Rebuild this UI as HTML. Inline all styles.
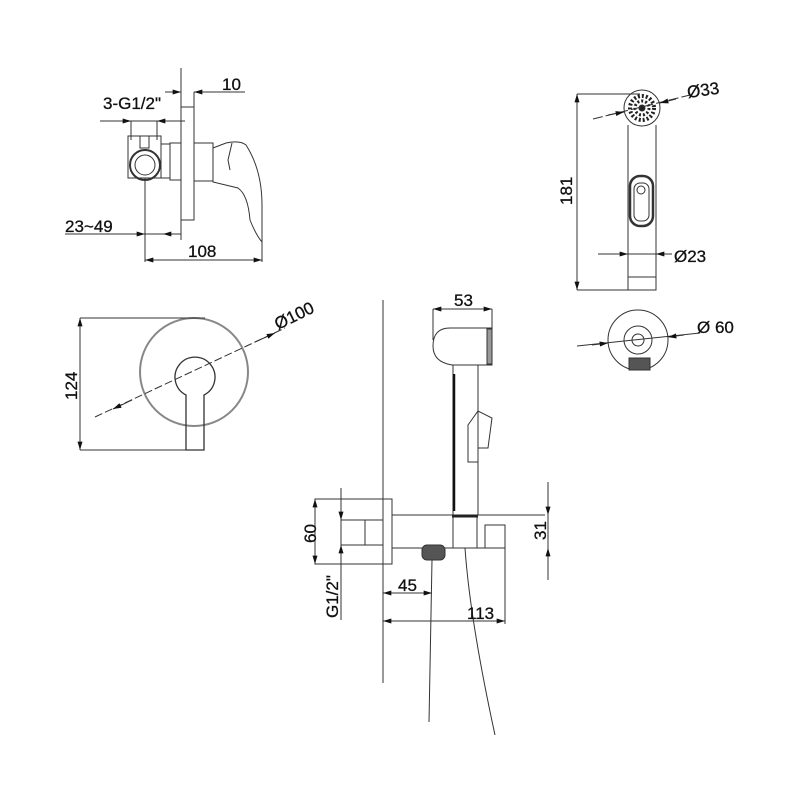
<!DOCTYPE html>
<html><head><meta charset="utf-8"><style>
html,body{margin:0;padding:0;background:#fff}
svg{display:block}
text{font-family:"Liberation Sans",sans-serif;font-size:17px;fill:#111;stroke:#111;stroke-width:0.3}
</style></head><body>
<svg width="800" height="800" viewBox="0 0 800 800" xmlns="http://www.w3.org/2000/svg">
<defs>
<marker id="a" viewBox="0 0 10 6" refX="10" refY="3" markerWidth="10" markerHeight="5" orient="auto-start-reverse" markerUnits="userSpaceOnUse"><path d="M0,0 L10,3 L0,6z" fill="#111"/></marker>
</defs>
<g stroke="#333" stroke-width="1" fill="none">
<line x1="181" y1="68" x2="181" y2="240"/>
<rect x="181" y="107" width="13" height="113"/>
<line x1="194" y1="92" x2="194" y2="107"/>
<line x1="165" y1="92" x2="181" y2="92" marker-end="url(#a)"/>
<line x1="245" y1="92" x2="194" y2="92" marker-end="url(#a)"/>
<line x1="100" y1="121" x2="185" y2="121"/>
<line x1="115" y1="121" x2="131" y2="121" marker-end="url(#a)"/>
<line x1="175" y1="121" x2="157" y2="121" marker-end="url(#a)"/>
<line x1="131" y1="121" x2="131" y2="140"/><line x1="157" y1="121" x2="157" y2="140"/>
<rect x="128" y="136" width="33" height="42"/>
<rect x="140" y="136" width="9" height="12"/>
<circle cx="145" cy="165" r="15" stroke-width="2"/>
<circle cx="145" cy="165" r="10"/>
<rect x="161" y="144" width="9" height="34"/>
<rect x="170" y="143" width="11" height="37"/>
<rect x="194" y="143" width="19" height="38"/>
<path d="M213,148 L226,143 Q240,140 246,145 Q262,170 262,205 L262,242 Q256,235 250,220 Q248,195 238,188 L213,182 Z"/>
<path d="M232,143 L228,160 L230,170"/>
<line x1="145" y1="178" x2="145" y2="262"/>
<line x1="262" y1="242" x2="262" y2="262"/>
<line x1="65" y1="234" x2="181" y2="234"/>
<line x1="130" y1="234" x2="145" y2="234" marker-end="url(#a)"/>
<line x1="176" y1="234" x2="163" y2="234" marker-end="url(#a)"/>
<line x1="145" y1="260" x2="262" y2="260"/>
<line x1="160" y1="260" x2="145" y2="260" marker-end="url(#a)"/>
<line x1="247" y1="260" x2="262" y2="260" marker-end="url(#a)"/>

<circle cx="194" cy="372" r="54" stroke="#888" stroke-width="2"/>
<path d="M186,450 L186,395 A20,20 0 1 1 204,395 L204,450 Z" stroke-width="1.3"/>
<line x1="80" y1="318" x2="205" y2="318"/>
<line x1="80" y1="450" x2="200" y2="450"/>
<line x1="80" y1="318" x2="80" y2="450"/>
<line x1="80" y1="335" x2="80" y2="318" marker-end="url(#a)"/>
<line x1="80" y1="433" x2="80" y2="450" marker-end="url(#a)"/>
<line x1="95" y1="417" x2="285" y2="328" stroke-dasharray="8,3"/>
<line x1="132" y1="400" x2="113" y2="409" marker-end="url(#a)"/>
<line x1="255" y1="342" x2="275" y2="333" marker-end="url(#a)"/>

<circle cx="642" cy="108" r="18"/>
<circle cx="642" cy="108" r="12" stroke-dasharray="2,2" stroke-width="4" stroke="#222"/>
<circle cx="642" cy="108" r="7" stroke-dasharray="2,2" stroke-width="3" stroke="#222"/>
<circle cx="642" cy="108" r="3" fill="#222"/>
<path d="M628,125 L628,290 L656,290 L656,125"/>
<line x1="628" y1="277" x2="656" y2="277"/>
<rect x="630" y="176" width="23" height="50" rx="10" stroke-width="2.5"/>
<rect x="634" y="183" width="15" height="38" rx="6"/>
<circle cx="641" cy="190" r="4"/>
<line x1="577" y1="94" x2="640" y2="94"/>
<line x1="577" y1="290" x2="628" y2="290"/>
<line x1="577" y1="94" x2="577" y2="290"/>
<line x1="577" y1="110" x2="577" y2="94" marker-end="url(#a)"/>
<line x1="577" y1="274" x2="577" y2="290" marker-end="url(#a)"/>
<line x1="593" y1="119" x2="690" y2="95" stroke-dasharray="10,3"/>
<line x1="608" y1="115" x2="624" y2="112" marker-end="url(#a)"/>
<line x1="676" y1="99" x2="660" y2="103" marker-end="url(#a)"/>
<line x1="598" y1="254" x2="672" y2="254"/>
<line x1="612" y1="254" x2="628" y2="254" marker-end="url(#a)"/>
<line x1="672" y1="254" x2="656" y2="254" marker-end="url(#a)"/>
<circle cx="638" cy="340" r="30"/>
<circle cx="638" cy="340" r="14"/>
<circle cx="638" cy="340" r="6"/>
<rect x="629" y="358" width="21" height="12" fill="#555"/>
<line x1="577" y1="346" x2="700" y2="333"/>
<line x1="592" y1="345" x2="608" y2="343" marker-end="url(#a)"/>
<line x1="684" y1="335" x2="668" y2="337" marker-end="url(#a)"/>

<line x1="383" y1="300" x2="383" y2="683"/>
<line x1="433" y1="309" x2="433" y2="340"/>
<line x1="492" y1="309" x2="492" y2="345"/>
<line x1="433" y1="309" x2="492" y2="309"/>
<line x1="450" y1="309" x2="433" y2="309" marker-end="url(#a)"/>
<line x1="475" y1="309" x2="492" y2="309" marker-end="url(#a)"/>
<path d="M450,328 L492,328 L492,365 L452,365 Q433,362 433,346 Q433,328 450,328 Z"/>
<rect x="487" y="329" width="5" height="35" fill="#999"/>
<path d="M453,365 L453,515 M478,365 L478,515"/>
<line x1="454" y1="374" x2="454" y2="511" stroke-width="2.5" stroke="#111"/>
<path d="M468,425 L478,411 L492,418 L488,448 L478,448 L478,462 L468,462 Z"/>
<line x1="392" y1="515" x2="545" y2="515"/>
<line x1="392" y1="548" x2="505" y2="548"/>
<rect x="315" y="499" width="77" height="65"/>
<rect x="341" y="520" width="42" height="25"/>
<line x1="365" y1="520" x2="365" y2="545"/>
<rect x="453" y="515" width="24" height="33"/>
<line x1="452" y1="516" x2="478" y2="516" stroke-width="3" stroke="#222"/>
<rect x="485" y="525" width="20" height="23"/>
<rect x="422" y="545" width="23" height="15" rx="5" fill="#555"/>
<line x1="315" y1="499" x2="315" y2="564"/>
<line x1="315" y1="515" x2="315" y2="499" marker-end="url(#a)"/>
<line x1="315" y1="548" x2="315" y2="564" marker-end="url(#a)"/>
<line x1="341" y1="488" x2="341" y2="620"/>
<line x1="341" y1="505" x2="341" y2="520" marker-end="url(#a)"/>
<line x1="341" y1="560" x2="341" y2="545" marker-end="url(#a)"/>
<line x1="548" y1="482" x2="548" y2="580"/>
<line x1="548" y1="498" x2="548" y2="515" marker-end="url(#a)"/>
<line x1="548" y1="565" x2="548" y2="548" marker-end="url(#a)"/>
<line x1="383" y1="593" x2="432" y2="593"/>
<line x1="398" y1="593" x2="383" y2="593" marker-end="url(#a)"/>
<line x1="418" y1="593" x2="432" y2="593" marker-end="url(#a)"/>
<line x1="383" y1="621" x2="505" y2="621"/>
<line x1="398" y1="621" x2="383" y2="621" marker-end="url(#a)"/>
<line x1="490" y1="621" x2="505" y2="621" marker-end="url(#a)"/>
<line x1="505" y1="548" x2="505" y2="624"/>
<line x1="432" y1="560" x2="429" y2="722"/>
<path d="M465,548 Q470,620 495,735"/>
</g>
<g>
<text x="222" y="90">10</text>
<text x="103" y="109">3-G1/2"</text>
<text x="65" y="232">23~49</text>
<text x="188" y="257">108</text>
<text transform="translate(77,400) rotate(-90)">124</text>
<text transform="translate(278,330) rotate(-26)">Ø100</text>
<text transform="translate(572,205) rotate(-90)">181</text>
<text transform="translate(688,98) rotate(-8)">Ø33</text>
<text x="674" y="262">Ø23</text>
<text x="697" y="333">Ø 60</text>
<text x="454" y="306">53</text>
<text transform="translate(316,543) rotate(-90)">60</text>
<text transform="translate(338,618) rotate(-90)">G1/2"</text>
<text transform="translate(546,540) rotate(-90)">31</text>
<text x="398" y="591">45</text>
<text x="467" y="619">113</text>
</g>
</svg>
</body></html>
